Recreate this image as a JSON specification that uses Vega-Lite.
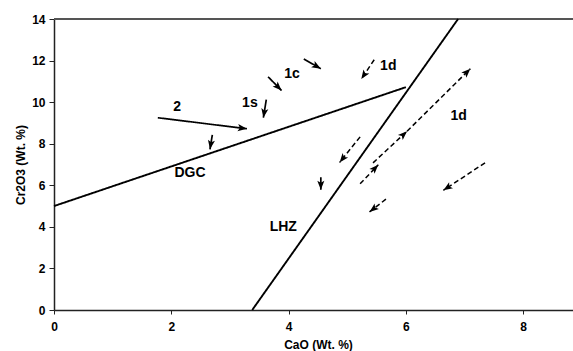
{
  "$schema": "https://vega.github.io/schema/vega-lite/v6.json",
  "width": 519,
  "height": 291,
  "autosize": {"type": "none"},
  "padding": {"left": 54, "top": 19, "right": 0, "bottom": 41},
  "background": "white",
  "config": {
    "view": {"stroke": null},
    "font": "Liberation Sans",
    "axis": {
      "grid": false,
      "labelFont": "Liberation Sans",
      "labelFontWeight": "bold",
      "labelFontSize": 12,
      "labelColor": "black",
      "titleFont": "Liberation Sans",
      "titleFontWeight": "bold",
      "titleFontSize": 12,
      "titleColor": "black",
      "domainColor": "#222",
      "domainWidth": 1.5,
      "tickColor": "#222",
      "tickWidth": 1
    }
  },
  "datasets": {
    "frame": [{"top": 14}],
    "segments": [
      {"id": "DGC", "kind": "line", "x": 0, "y": 5, "x2": 6.0, "y2": 10.72},
      {"id": "LHZ", "kind": "line", "x": 3.38, "y": 0, "x2": 6.89, "y2": 14},
      {"id": "a1", "kind": "solid", "x": 1.77, "y": 9.25, "x2": 3.29, "y2": 8.72},
      {"id": "a2", "kind": "solid", "x": 2.70, "y": 8.43, "x2": 2.66, "y2": 7.73},
      {"id": "a3", "kind": "solid", "x": 3.62, "y": 10.12, "x2": 3.57, "y2": 9.25},
      {"id": "a4", "kind": "solid", "x": 3.65, "y": 11.22, "x2": 3.88, "y2": 10.56},
      {"id": "a5", "kind": "solid", "x": 4.26, "y": 12.08, "x2": 4.55, "y2": 11.61},
      {"id": "a6", "kind": "solid", "x": 4.55, "y": 6.39, "x2": 4.55, "y2": 5.78},
      {"id": "d1", "kind": "dashed", "x": 5.46, "y": 12.04, "x2": 5.24, "y2": 11.11},
      {"id": "d2", "kind": "dashed", "x": 5.22, "y": 8.33, "x2": 4.87, "y2": 7.10},
      {"id": "d3", "kind": "dashed", "x": 5.22, "y": 6.07, "x2": 5.53, "y2": 6.99},
      {"id": "d4", "kind": "dashed", "x": 5.44, "y": 7.08, "x2": 6.02, "y2": 8.60},
      {"id": "d5", "kind": "dashed", "x": 6.02, "y": 8.60, "x2": 7.10, "y2": 11.61},
      {"id": "d6", "kind": "dashed", "x": 5.66, "y": 5.33, "x2": 5.38, "y2": 4.72},
      {"id": "d7", "kind": "dashed", "x": 7.35, "y": 7.08, "x2": 6.64, "y2": 5.76}
    ],
    "labels": [
      {"t": "2", "x": 2.10, "y": 9.79},
      {"t": "1s", "x": 3.34, "y": 9.96},
      {"t": "1c", "x": 4.06, "y": 11.35},
      {"t": "1d", "x": 5.70, "y": 11.72},
      {"t": "1d", "x": 6.90, "y": 9.31},
      {"t": "DGC", "x": 2.32, "y": 6.60},
      {"t": "LHZ", "x": 3.91, "y": 3.98}
    ]
  },
  "layer": [
    {
      "data": {"name": "frame"},
      "mark": {"type": "rule", "color": "#555", "strokeWidth": 2},
      "encoding": {
        "y": {"field": "top", "type": "quantitative"}
      }
    },
    {
      "data": {"name": "segments"},
      "mark": {"type": "rule", "color": "black"},
      "encoding": {
        "x": {
          "field": "x", "type": "quantitative",
          "scale": {"domain": [0, 8.85], "nice": false, "zero": false},
          "axis": {
            "title": "CaO (Wt. %)",
            "values": [0, 2, 4, 6, 8],
            "format": "d",
            "tickSize": 4,
            "labelPadding": 7,
            "labelFlush": false,
            "titleX": 264,
            "titleY": 34,
            "titleBaseline": "middle"
          }
        },
        "y": {
          "field": "y", "type": "quantitative",
          "scale": {"domain": [0, 14], "nice": false, "zero": false},
          "axis": {
            "title": "Cr2O3 (Wt. %)",
            "values": [0, 2, 4, 6, 8, 10, 12, 14],
            "format": "d",
            "tickSize": 5,
            "labelPadding": 4,
            "titleX": -34,
            "titleBaseline": "middle"
          }
        },
        "x2": {"field": "x2"},
        "y2": {"field": "y2"},
        "strokeWidth": {
          "field": "kind", "type": "nominal",
          "scale": {"domain": ["line", "solid", "dashed"], "range": [1.9, 1.5, 1.6]},
          "legend": null
        },
        "strokeDash": {
          "field": "kind", "type": "nominal",
          "scale": {"domain": ["line", "solid", "dashed"], "range": [[1, 0], [1, 0], [5, 3]]},
          "legend": null
        }
      }
    },
    {
      "data": {"name": "segments"},
      "transform": [
        {"filter": "datum.kind != 'line'"},
        {"calculate": "atan2((datum.x2 - datum.x) * 58.64, (datum.y2 - datum.y) * 20.79) * 180 / PI", "as": "ang"}
      ],
      "mark": {
        "type": "point",
        "shape": "M0,0L0.5,1.3L0,1L-0.5,1.3Z",
        "filled": true,
        "color": "black",
        "opacity": 1,
        "size": 200,
        "strokeWidth": 0
      },
      "encoding": {
        "x": {"field": "x2", "type": "quantitative"},
        "y": {"field": "y2", "type": "quantitative"},
        "angle": {"field": "ang", "type": "quantitative", "scale": null}
      }
    },
    {
      "data": {"name": "labels"},
      "mark": {
        "type": "text",
        "font": "Liberation Sans",
        "fontWeight": "bold",
        "fontSize": 14,
        "color": "black",
        "align": "center",
        "baseline": "middle"
      },
      "encoding": {
        "x": {"field": "x", "type": "quantitative"},
        "y": {"field": "y", "type": "quantitative"},
        "text": {"field": "t"}
      }
    }
  ]
}
